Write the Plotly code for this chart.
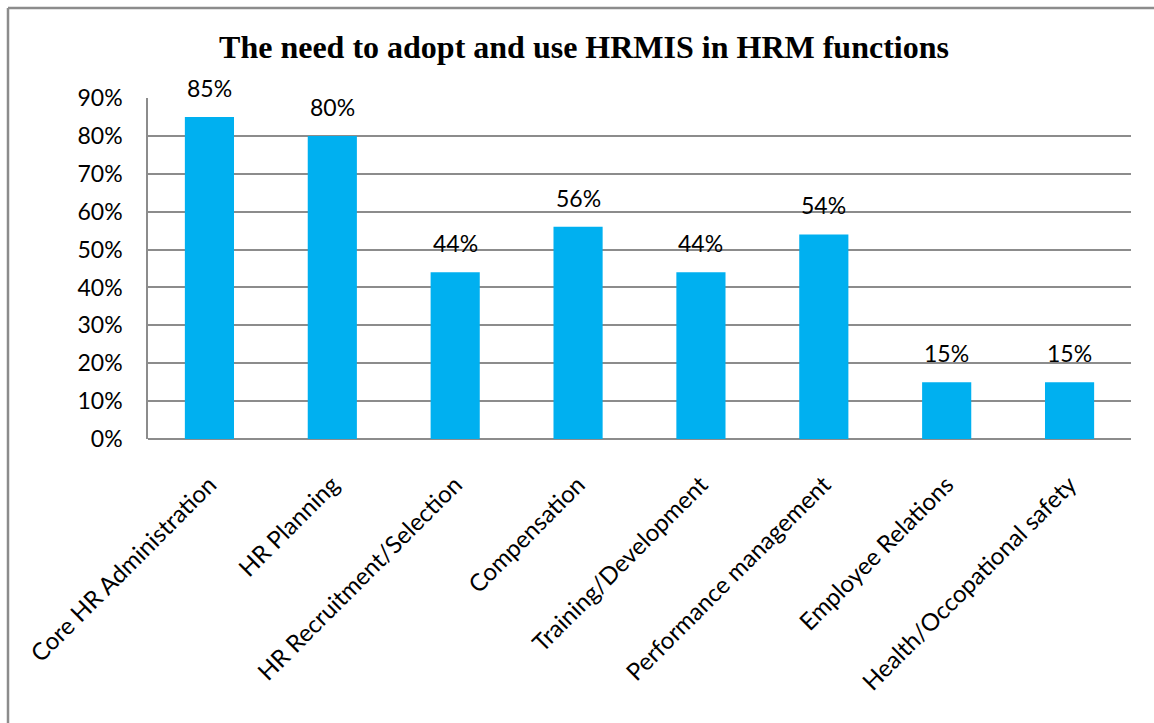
import plotly.graph_objects as go

categories = [
    "Core HR Administration",
    "HR Planning",
    "HR Recruitment/Selection",
    "Compensation",
    "Training/Development",
    "Performance management",
    "Employee Relations",
    "Health/Occopational safety",
]
values = [85, 80, 44, 56, 44, 54, 15, 15]
y_ticks = [0, 10, 20, 30, 40, 50, 60, 70, 80, 90]
y_tick_labels = [f"{v}%" for v in y_ticks]
title_text = "The need to adopt and use HRMIS in HRM functions"

W, H = 1154, 723
L, R, T, B = 148, 23, 98, 284
plot_w = W - L - R
plot_h = H - T - B

FONT = "Lato, Open Sans, sans-serif"
GRID = "#8C8C8C"

fig = go.Figure(
    go.Bar(
        x=categories,
        y=values,
        marker=dict(color="#00B0F0", line=dict(width=0)),
        width=0.4,
        hoverinfo="x+y",
    )
)

# Value labels above each bar
for c, v in zip(categories, values):
    fig.add_annotation(
        x=c, y=v, text=f"{v}%",
        xref="x", yref="y",
        showarrow=False,
        yanchor="bottom",
        yshift=13,
        font=dict(family=FONT, size=23, color="#000000"),
    )

fig.update_layout(
    width=W,
    height=H,
    margin=dict(l=L, r=R, t=T, b=B, pad=0),
    paper_bgcolor="white",
    plot_bgcolor="white",
    showlegend=False,
    title=dict(
        text=f"<b>{title_text}</b>",
        x=584 / W,
        xanchor="center",
        y=1 - 47 / H,
        yanchor="middle",
        font=dict(family="Liberation Serif, Times New Roman, serif", size=32, color="#000000"),
    ),
    xaxis=dict(
        tickangle=-45,
        tickfont=dict(family=FONT, size=24, color="#000000"),
        showgrid=False,
        showline=False,
        ticks="",
        ticklen=0,
        ticklabelstandoff=26,
    ),
    yaxis=dict(
        range=[0, 90],
        tickvals=y_ticks,
        ticktext=y_tick_labels,
        tickfont=dict(family=FONT, size=23, color="#000000"),
        showgrid=True,
        gridcolor=GRID,
        gridwidth=1.5,
        zeroline=True,
        zerolinecolor=GRID,
        zerolinewidth=1.5,
        showline=True,
        linecolor=GRID,
        linewidth=1.5,
        ticks="",
        ticklabelstandoff=19,
    ),
    bargap=0.6,
)

# Outer frame: top and left edges of the chart box
fx0 = (8 - L) / plot_w
fy_top = 1 + (T - 8) / plot_h
fig.add_shape(type="line", xref="paper", yref="paper",
              x0=fx0, x1=(W + 5 - L) / plot_w, y0=fy_top, y1=fy_top,
              line=dict(color=GRID, width=2.5))
fig.add_shape(type="line", xref="paper", yref="paper",
              x0=fx0, x1=fx0, y0=fy_top, y1=-(B + 5) / plot_h,
              line=dict(color=GRID, width=2.5))

fig.write_html("out.html")
